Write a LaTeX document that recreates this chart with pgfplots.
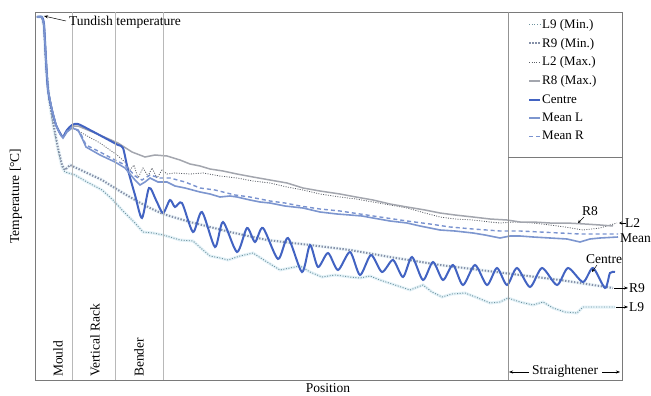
\documentclass[border=0pt]{standalone}
\usepackage{fontspec}
\setmainfont{Liberation Serif}
\usepackage{pgfplots}
\pgfplotsset{compat=1.18}
\usepackage{pgfplotstable}
\usetikzlibrary{arrows.meta,calc}

\definecolor{centre}{HTML}{4263C2}
\definecolor{meanl}{HTML}{7D96CF}
\definecolor{meanr}{HTML}{7A93D0}
\definecolor{rgray}{HTML}{A3A6AE}
\definecolor{ltwo}{HTML}{5A5E66}
\definecolor{rnine}{HTML}{8590A8}
\definecolor{lnine}{HTML}{6E939E}
\definecolor{halo}{HTML}{E4F2F8}
\definecolor{frame}{HTML}{7A7A7A}
\definecolor{vline}{HTML}{B8B8B8}

\pgfplotstableread{
x y
37 17
42 17
44 28
46 70
49 100
53 125
58 150
62 167
65 172
75 175
87 182
102 190
113 200
122 210
135 223
143 232
153 233
163 235
170 237
180 240
193 241
203 250
210 256
220 258
228 260
240 256
253 253
267 262
280 270
290 268
300 266
310 272
322 277
335 275
350 277
360 278
370 276
380 280
395 285
410 290
423 285
432 292
442 297
452 294
465 293
478 298
490 303
500 302
508 298
520 302
533 305
543 302
553 308
565 312
577 313
583 307
595 307
605 307
615 307
}\tLnine

\pgfplotstableread{
x y
37 17
42 17
44 25
46 65
49 98
53 122
58 148
62 165
65 170
70 165
85 172
102 180
118 190
135 200
150 208
163 214
190 222
230 232
267 240
310 245
350 250
390 257
440 265
480 270
520 275
560 280
613 288
}\tRnine

\pgfplotstableread{
x y
37 17
42 17
44 25
46 60
48 90
52 110
56 125
60 133
63 137
67 131
72 128
80 132
100 143
117 155
125 162
130 170
134 165
138 178
143 168
148 176
152 168
157 178
162 170
167 174
175 173
190 174
203 173
220 176
237 178
253 181
270 183
287 187
303 190
320 194
340 197
356 199
373 202
390 205
407 208
425 213
440 217
455 219
473 220
490 222
500 223
515 222
533 223
550 225
565 227
583 230
600 228
610 225
617 223
}\tLtwo

\pgfplotstableread{
x y
37 17
42 17
44 25
46 60
48 90
52 110
56 125
60 133
63 137
67 130
72 126
78 126
95 133
118 143
132 152
145 157
155 155
167 156
180 160
190 164
200 166
210 169
223 171
237 174
253 177
270 180
287 183
303 188
320 191
340 194
356 197
373 200
390 204
407 207
425 210
440 213
455 215
473 217
490 219
507 220
520 222
533 222
550 223
567 223
585 224
600 225
613 226
}\tReight

\pgfplotstableread{
x y
37 17
42 17
44 25
46 60
48 90
52 110
56 125
60 133
63 137
67 130
72 125
78 124
90 130
105 138
118 145
123 148
128 170
135 195
142 218
149 188
156 200
163 213
170 200
175 207
182 203
193 232
202 212
215 247
223 222
237 252
247 228
255 242
263 228
278 259
288 238
302 272
310 245
318 267
328 253
338 270
350 252
360 275
371 255
382 272
393 260
403 277
412 257
423 280
433 262
443 280
453 265
463 285
475 265
487 285
497 268
507 285
517 268
530 287
542 268
557 285
568 268
583 282
593 268
605 288
610 273
615 272
}\tCentre

\pgfplotstableread{
x y
37 17
42 17
44 25
46 60
48 90
52 110
56 125
60 134
63 138
67 132
72 128
78 130
82 138
86 147
100 155
115 162
125 168
135 180
140 185
145 182
150 178
158 182
167 182
175 186
185 188
200 192
210 194
220 197
230 196
237 197
250 200
260 202
270 203
285 206
303 208
320 212
337 214
350 215
362 216
373 218
390 221
407 223
420 226
440 230
455 231
473 233
485 235
500 238
510 236
520 236
533 237
550 238
567 239
580 242
590 239
600 238
618 237
}\tMeanL

\pgfplotstableread{
x y
37 17
42 17
44 25
46 60
48 90
52 110
56 125
60 134
63 137
67 131
72 127
80 132
86 145
100 152
115 160
125 165
135 176
142 180
150 175
160 178
170 178
185 182
200 188
215 190
235 195
250 197
270 201
285 203
300 206
320 209
340 211
360 214
380 217
407 221
430 224
450 227
473 229
500 231
520 231
540 232
560 233
580 234
600 234
618 234
}\tMeanR

\begin{document}
\begin{tikzpicture}
\begin{axis}[
  scale only axis, width=587pt, height=368pt,
  xmin=35, xmax=622, ymin=12, ymax=380, y dir=reverse,
  axis line style={frame, line width=0.9pt},
  ticks=none, clip=false,
  legend image code/.code={\draw[#1] (0pt,0pt) -- (11pt,0pt);},
  legend style={at={(axis cs:527,17)}, anchor=north west, draw=none, fill=none,
    font=\fontsize{13}{15}\selectfont, row sep=6.3pt, inner sep=1pt,
    nodes={inner sep=1pt}},
  legend cell align=left,
]
% background halos
\addplot[halo, line width=3pt, forget plot] table {\tLnine};
\addplot[halo!60!white, line width=3.5pt, forget plot] table {\tRnine};

\addplot[lnine, line width=0.9pt, dash pattern=on 1pt off 1.6pt] table {\tLnine};
\addlegendentry{L9 (Min.)}
\addplot[rnine, line width=2pt, dash pattern=on 1.4pt off 1.6pt] table {\tRnine};
\addlegendentry{R9 (Min.)}
\addplot[ltwo, line width=0.8pt, dash pattern=on 1pt off 1.4pt] table {\tLtwo};
\addlegendentry{L2 (Max.)}
\addplot[rgray, line width=1.5pt] table {\tReight};
\addlegendentry{R8 (Max.)}
\addplot[centre, line width=2pt, smooth, tension=0.45] table {\tCentre};
\addlegendentry{Centre}
\addplot[meanl, line width=1.6pt] table {\tMeanL};
\addlegendentry{Mean L}
\addplot[meanr, line width=1.4pt, dash pattern=on 4pt off 3pt] table {\tMeanR};
\addlegendentry{Mean R}

% zone lines
\draw[vline, line width=0.8pt] (axis cs:72,12) -- (axis cs:72,380);
\draw[vline, line width=0.8pt] (axis cs:115,12) -- (axis cs:115,380);
\draw[vline, line width=0.8pt] (axis cs:163,12) -- (axis cs:163,380);
\draw[vline!80!black, line width=0.8pt] (axis cs:508,12) -- (axis cs:508,380);
\draw[frame, line width=0.6pt] (axis cs:508,157) -- (axis cs:622,157);

% zone labels
\begin{scope}[font=\fontsize{13.5}{16}\selectfont]
\node[rotate=90, anchor=west, inner sep=0pt] at (axis cs:58,377) {Mould};
\node[rotate=90, anchor=west, inner sep=0pt] at (axis cs:95,377) {Vertical Rack};
\node[rotate=90, anchor=west, inner sep=0pt] at (axis cs:139,377) {Bender};
\node[inner sep=0pt] at (axis cs:565,371) {Straightener};
\draw[-{Stealth[length=4pt,width=3pt]}, line width=0.5pt] (axis cs:529,372) -- (axis cs:509,372);
\draw[-{Stealth[length=4pt,width=3pt]}, line width=0.5pt] (axis cs:602,372) -- (axis cs:620,372);

\node[anchor=west, inner sep=0pt] at (axis cs:69,22) {Tundish temperature};
\draw[-{Stealth[length=4pt,width=3pt]}, line width=0.5pt] (axis cs:66,21) -- (axis cs:44,16);

\node[inner sep=0pt] at (axis cs:590,211) {R8};
\draw[-{Stealth[length=3pt,width=3pt]}, line width=0.5pt] (axis cs:584,217) -- (axis cs:578,223);
\node[anchor=west, inner sep=0pt] at (axis cs:625,223) {L2};
\draw[-{Stealth[length=3pt,width=3pt]}, line width=0.5pt] (axis cs:626,223) -- (axis cs:619,223);
\node[anchor=west, inner sep=0pt] at (axis cs:620,238) {Mean};
\node[inner sep=0pt] at (axis cs:604,259) {Centre};
\draw[-{Stealth[length=3pt,width=3pt]}, line width=0.5pt] (axis cs:597,265) -- (axis cs:592,272);
\draw[-{Stealth[length=4pt,width=3pt]}, line width=0.5pt] (axis cs:614,288) -- (axis cs:628,288);
\node[anchor=west, inner sep=0pt] at (axis cs:629,288) {R9};
\draw[-{Stealth[length=4pt,width=3pt]}, line width=0.5pt] (axis cs:616,307) -- (axis cs:628,307);
\node[anchor=west, inner sep=0pt] at (axis cs:629,307) {L9};

\node[anchor=north, inner sep=0pt] at (axis cs:328,383.5) {Position};
\node[rotate=90, inner sep=0pt] at (axis cs:16,196) {Temperature [°C]};
\end{scope}
\end{axis}
\pgfresetboundingbox
\path[use as bounding box] ($(current axis.south west)+(-35pt,-16pt)$) rectangle ($(current axis.north east)+(29pt,12pt)$);
\end{tikzpicture}
\end{document}
